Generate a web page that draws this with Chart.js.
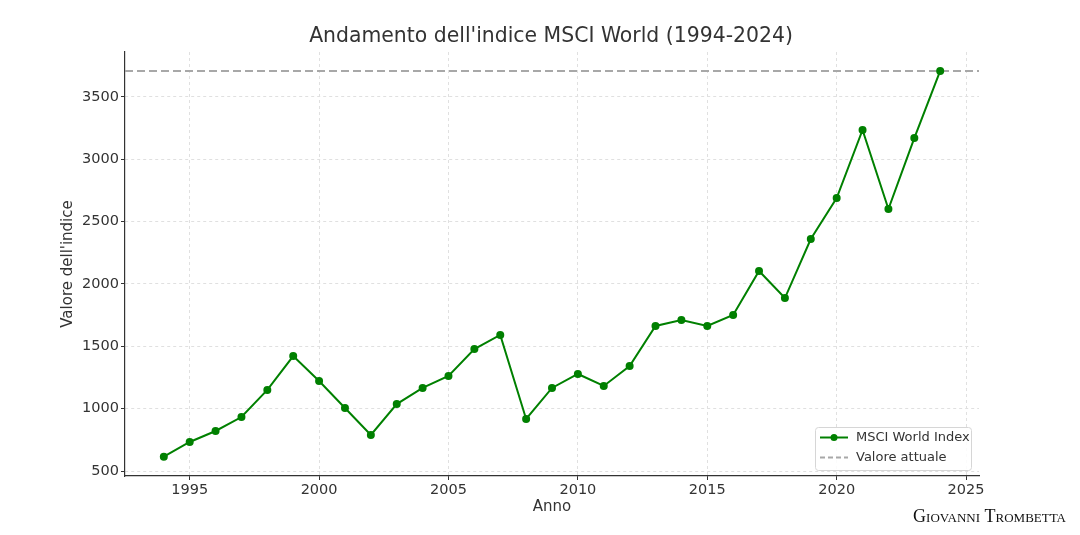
<!DOCTYPE html>
<html>
<head>
<meta charset="utf-8">
<script src="https://cdn.jsdelivr.net/npm/chart.js@4.4.1/dist/chart.umd.min.js"></script>
<style>
  html, body { margin: 0; padding: 0; background: #fff; }
  canvas { display: block; }
</style>
</head>
<body>
<canvas id="msci" width="1080" height="535"></canvas>
<script>
// 데이터
const years = [1994, 1995, 1996, 1997, 1998, 1999, 2000, 2001, 2002, 2003, 2004,
  2005, 2006, 2007, 2008, 2009, 2010, 2011, 2012, 2013, 2014, 2015, 2016, 2017,
  2018, 2019, 2020, 2021, 2022, 2023, 2024];
const msciValues = [615, 733, 821, 933, 1150, 1422, 1222, 1005, 789, 1037, 1166,
  1262, 1478, 1591, 917, 1166, 1278, 1182, 1342, 1663, 1711, 1663, 1751, 2104,
  1887, 2360, 2689, 3235, 2601, 3170, 3708];
const currentValue = 3708;
const xTicks = [1995, 2000, 2005, 2010, 2015, 2020, 2025];
const yTicks = [500, 1000, 1500, 2000, 2500, 3000, 3500];
const seriesNames = ['MSCI World Index', 'Valore attuale'];

const FONT = '"DejaVu Sans", sans-serif';
const xMin = 1992.5, xMax = 2025.5;

// 제목, 범례, 서명 그리기
const decorPlugin = {
  id: 'decor',
  afterDraw(chart) {
    const ctx = chart.ctx;
    ctx.save();
    // 제목
    ctx.fillStyle = '#333';
    ctx.font = '20.4px ' + FONT;
    ctx.textAlign = 'center';
    ctx.textBaseline = 'middle';
    ctx.fillText("Andamento dell'indice MSCI World (1994-2024)", 551, 37);

    // 범례 (오른쪽 아래)
    const bx = 815, by = 427, bw = 156, bh = 43;
    ctx.fillStyle = 'rgba(255,255,255,0.85)';
    ctx.strokeStyle = '#d6d6d6';
    ctx.lineWidth = 1;
    ctx.beginPath();
    ctx.roundRect(bx + 0.5, by + 0.5, bw, bh, 3);
    ctx.fill();
    ctx.stroke();

    ctx.strokeStyle = '#008000';
    ctx.lineWidth = 2;
    ctx.beginPath();
    ctx.moveTo(820, 437.5); ctx.lineTo(848, 437.5);
    ctx.stroke();
    ctx.fillStyle = '#008000';
    ctx.beginPath();
    ctx.arc(834, 437.5, 3.5, 0, Math.PI * 2);
    ctx.fill();

    ctx.strokeStyle = '#a8a8a8';
    ctx.setLineDash([5, 3]);
    ctx.beginPath();
    ctx.moveTo(820, 457.5); ctx.lineTo(848, 457.5);
    ctx.stroke();
    ctx.setLineDash([]);

    ctx.fillStyle = '#333';
    ctx.font = '13px ' + FONT;
    ctx.textAlign = 'left';
    ctx.fillText(seriesNames[0], 856, 437.5);
    ctx.fillText(seriesNames[1], 856, 457.5);

    // 서명
    ctx.fillStyle = '#111';
    ctx.font = 'small-caps 18px "Liberation Serif", serif';
    ctx.textAlign = 'right';
    ctx.textBaseline = 'alphabetic';
    ctx.fillText('Giovanni Trombetta', 1066, 522);
    ctx.restore();
  }
};

new Chart(document.getElementById('msci'), {
  type: 'line',
  data: {
    datasets: [{
      label: seriesNames[0],
      data: years.map((y, i) => ({ x: y, y: msciValues[i] })),
      borderColor: '#008000',
      backgroundColor: '#008000',
      borderWidth: 2,
      pointRadius: 4,
      pointHoverRadius: 4,
      pointBorderWidth: 0,
      tension: 0,
      order: 1
    }, {
      label: seriesNames[1],
      data: [{ x: xMin, y: currentValue }, { x: xMax, y: currentValue }],
      borderColor: '#a8a8a8',
      borderWidth: 2,
      borderDash: [8, 4],
      pointRadius: 0,
      order: 2
    }]
  },
  options: {
    responsive: false,
    animation: false,
    layout: { padding: { top: 52, right: 101, bottom: 0, left: 0 } },
    plugins: {
      legend: { display: false },
      title: { display: false },
      tooltip: { enabled: false }
    },
    scales: {
      x: {
        type: 'linear',
        min: xMin,
        max: xMax,
        afterBuildTicks: (s) => { s.ticks = xTicks.map(v => ({ value: v })); },
        afterFit: (s) => { s.height = 59; },
        ticks: {
          color: '#333', font: { family: FONT, size: 14.5 }, padding: 2, maxRotation: 0,
          callback: (v) => String(v)
        },
        grid: { color: '#e0e0e0', tickColor: '#333', tickLength: 4, tickBorderDash: [] },
        border: { color: '#333', width: 1.2, dash: [3, 3] },
        title: {
          display: true, text: 'Anno', color: '#333',
          font: { family: FONT, size: 15 }, padding: { top: 0, bottom: 19 }
        }
      },
      y: {
        min: 460,
        max: 3860,
        afterBuildTicks: (s) => { s.ticks = yTicks.map(v => ({ value: v })); },
        afterFit: (s) => { s.width = 125; },
        ticks: {
          color: '#333', font: { family: FONT, size: 14.5 }, padding: 2,
          callback: (v) => String(v)
        },
        grid: { color: '#e0e0e0', tickColor: '#333', tickLength: 4, tickBorderDash: [] },
        border: { color: '#333', width: 1.2, dash: [3, 3] },
        title: {
          display: true, text: "Valore dell'indice", color: '#333',
          font: { family: FONT, size: 15 }, padding: { top: 59, bottom: 0 }
        }
      }
    }
  },
  plugins: [decorPlugin]
});
</script>
</body>
</html>
